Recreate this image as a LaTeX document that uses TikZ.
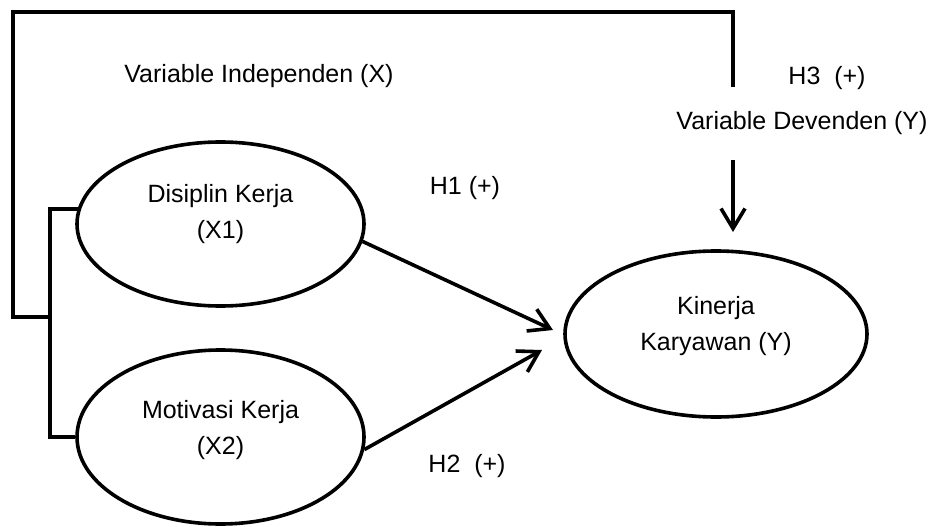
\documentclass[tikz,border=0pt]{standalone}
\usepackage{fontspec}
\setmainfont{Liberation Sans}
\usetikzlibrary{positioning, shapes.geometric, arrows.meta}

\begin{document}
\begin{tikzpicture}[
    x=1pt, y=-1pt, % work in pixels of the sketch
    line width=3.6pt,
    font=\fontsize{25}{36}\selectfont,
    % --- STYLES ---
    oval/.style={ellipse, draw, inner sep=0pt},
    caption/.style={align=center, inner sep=0pt},
    arrow/.style={-{Straight Barb[length=20pt, width=24pt]}},
]
\useasboundingbox (0,0) rectangle (929,527);

% --- VARIABLES ---
\node (x1) [oval, minimum width=287, minimum height=164] at (220.5,224) {};
\node (x1_txt) [caption] at ([yshift=9.5pt]x1.center) {Disiplin Kerja\\(X1)};
\node (x2) [oval, minimum width=287, minimum height=174] at (220.5,437) {};
\node (x2_txt) [caption] at ([yshift=7pt]x2.center) {Motivasi Kerja\\(X2)};
\node (y) [oval, minimum width=302, minimum height=166] at (716,334) {};
\node (y_txt) [caption] at ([yshift=8pt]y.center) {Kinerja\\Karyawan (Y)};

% --- LABELS ---
\node (indep) [caption] at (259,76) {Variable Independen (X)};
\node (dev) [caption, minimum height=69] at (802,123.5) {Variable Devenden (Y)}; % cuts the line
\node (h1) [caption] at (465,188) {H1 (+)};
\node (h2) [caption] at (467,466) {H2~~(+)};
\node (h3) [caption] at (827,78) {H3~~(+)};

% --- CORNERS AND TIPS ---
\coordinate (join) at (50,317);
\coordinate (top_left) at (13,12);
\coordinate (top_right) at (733,12);
\coordinate (tip1) at (553,330);
\coordinate (tip2) at (542,350);
\coordinate (tip3) at (733,232);

% Edges
\draw (x1.174) -| (join) |- (x2.west);
\draw (join) -| (top_left) -- (top_right) -- (top_right |- dev.north);
\draw [arrow] (top_right |- dev.south) -- (tip3);
\draw [arrow] (x1.-7) -- (tip1);
\draw [arrow] (x2.-5) -- (tip2);

\end{tikzpicture}
\end{document}
